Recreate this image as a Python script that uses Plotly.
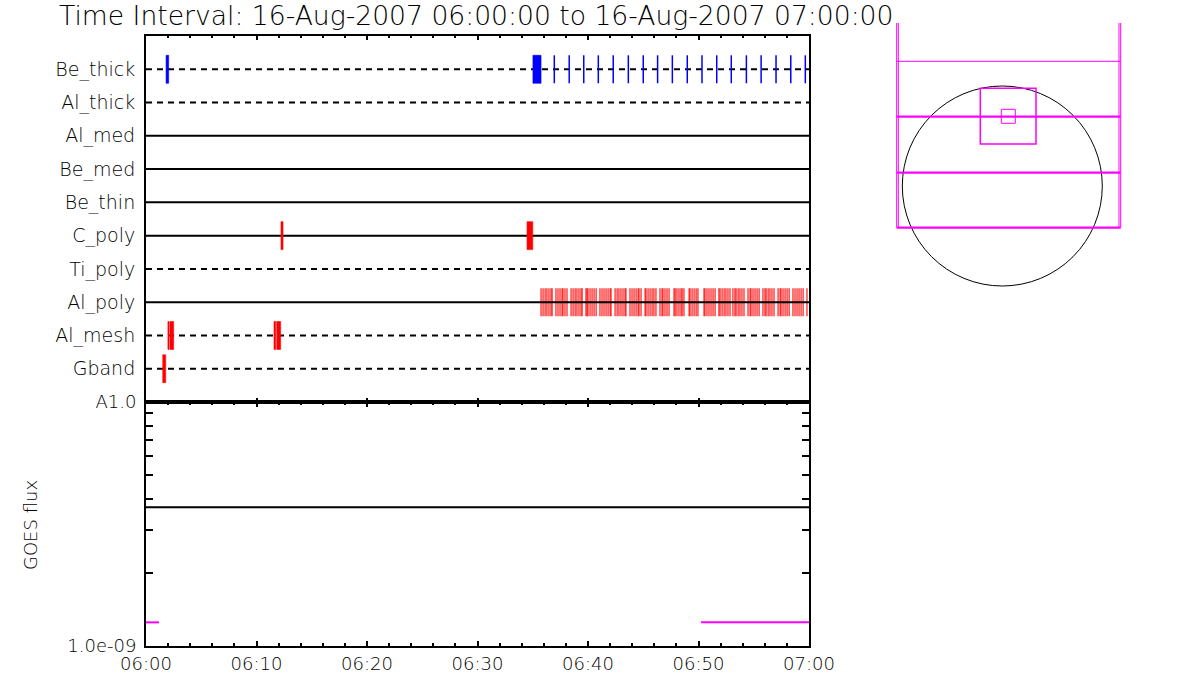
import plotly.graph_objects as go
import pandas as pd

# ---------------- data ----------------
t0 = pd.Timestamp("2007-08-16 06:00:00")
t1 = pd.Timestamp("2007-08-16 07:00:00")

rows = ["Be_thick", "Al_thick", "Al_med", "Be_med", "Be_thin",
        "C_poly", "Ti_poly", "Al_poly", "Al_mesh", "Gband"]
row_dashed = [True, True, False, False, False, False, True, False, True, True]

# event intervals, seconds after 06:00:00
be_thick_intervals = [(109, 123), (2101, 2145)]
be_thick_instants = [2217, 2298, 2377, 2456, 2537, 2619, 2700, 2778, 2858,
                     2939, 3019, 3099, 3178, 3260, 3340, 3421, 3501, 3580]
c_poly_intervals = [(733, 744), (2069, 2100)]
al_mesh_intervals = [(119, 125), (130, 150), (695, 704), (710, 731)]
gband_intervals = [(91, 107)]
al_poly_instants = [
    2145, 2156, 2167, 2177, 2188, 2199, 2205,
    2226, 2237, 2248, 2259, 2264, 2275, 2286,
    2308, 2319, 2330, 2340, 2351, 2362, 2368,
    2389, 2395, 2400, 2411, 2422, 2433, 2444,
    2465, 2476, 2487, 2498, 2509, 2520, 2525,
    2547, 2558, 2568, 2579, 2590, 2601, 2606,
    2628, 2639, 2650, 2661, 2672, 2677, 2688,
    2710, 2715, 2726, 2737, 2748, 2758, 2769,
    2791, 2802, 2807, 2818, 2829, 2840,
    2867, 2873, 2883, 2894, 2905, 2911, 2921,
    2949, 2954, 2965, 2976, 2987, 2997,
    3030, 3035, 3046, 3057, 3068, 3079, 3090,
    3111, 3117, 3128, 3139, 3149, 3160, 3171,
    3187, 3198, 3204, 3215, 3225, 3236, 3247,
    3269, 3280, 3285, 3296, 3307, 3318, 3329,
    3350, 3361, 3367, 3378, 3388, 3399, 3410,
    3432, 3443, 3448, 3459, 3470, 3481, 3492,
    3513, 3524, 3535, 3546, 3557, 3568,
    3589,
]

# GOES flux (W/m^2)
goes_level = 3.7e-9
goes_seg_times = [(0, 71), (3014, 3600)]
goes_seg_flux = [1.25e-9, 1.25e-9]

x_ticks_min = [0, 10, 20, 30, 40, 50, 60]
x_tick_labels = ["06:00", "06:10", "06:20", "06:30", "06:40", "06:50", "07:00"]
y_major_vals = [1e-9, 1e-8]
y_major_text = ["1.0e-09", "A1.0"]
y_minor_vals = [2e-9, 3e-9, 4e-9, 5e-9, 6e-9, 7e-9, 8e-9, 9e-9]

# right-hand FOV diagram (units, disk centre at 0,0)
disk_center = (0, 0)
disk_radius = 100
fov_vlines_x = [-105.6, -104.0, 116.7, 118.4]
fov_vline_y = (-41.7, 163)
fov_hlines_y = [124.7, 69.3, 13.3, -41.7]
fov_hlines_w = [1, 2.2, 2.2, 2.2]
fov_hline_x = (-105.6, 118.4)
box_big = (-22.0, 42.0, 33.7, 97.7)    # x0, y0, x1, y1
box_small = (-1.0, 62.7, 13.0, 76.7)

# ---------------- helpers ----------------
def ts(s):
    return t0 + pd.Timedelta(seconds=s)

row_y = {name: len(rows) - 1 - i for i, name in enumerate(rows)}
H = 0.42

def rect_trace(intervals, row, color):
    xs, ys = [], []
    y = row_y[row]
    for a, b in intervals:
        xs += [ts(a), ts(b), ts(b), ts(a), ts(a), None]
        ys += [y - H, y - H, y + H, y + H, y - H, None]
    return go.Scatter(x=xs, y=ys, mode="lines", fill="toself", fillcolor=color,
                      line=dict(color=color, width=0.6), xaxis="x", yaxis="y",
                      hoverinfo="skip", showlegend=False)

def tick_trace(instants, row, color, width):
    xs, ys = [], []
    y = row_y[row]
    for a in instants:
        xs += [ts(a), ts(a), None]
        ys += [y - H, y + H, None]
    return go.Scatter(x=xs, y=ys, mode="lines", line=dict(color=color, width=width),
                      xaxis="x", yaxis="y", hoverinfo="skip", showlegend=False)

def baseline(i):
    name = rows[i]
    return go.Scatter(x=[t0, t1], y=[row_y[name]] * 2, mode="lines",
                      line=dict(color="black", width=2,
                                dash="6px,5px" if row_dashed[i] else "solid"),
                      xaxis="x", yaxis="y", hoverinfo="skip", showlegend=False)

fig = go.Figure()

for i, name in enumerate(rows):
    if name != "Al_poly":
        fig.add_trace(baseline(i))

fig.add_trace(rect_trace(be_thick_intervals, "Be_thick", "#0000ff"))
fig.add_trace(tick_trace(be_thick_instants, "Be_thick", "#0000ff", 1.5))
fig.add_trace(rect_trace(c_poly_intervals, "C_poly", "#ff0000"))
fig.add_trace(rect_trace(al_mesh_intervals, "Al_mesh", "#ff0000"))
fig.add_trace(rect_trace(gband_intervals, "Gband", "#ff0000"))
fig.add_trace(tick_trace(al_poly_instants, "Al_poly", "#ff0000", 1.1))
fig.add_trace(baseline(rows.index("Al_poly")))

# GOES panel
fig.add_trace(go.Scatter(x=[t0, t1], y=[goes_level, goes_level], mode="lines",
                         line=dict(color="black", width=2), xaxis="x2", yaxis="y2",
                         hoverinfo="skip", showlegend=False))
for (a, b), f in zip(goes_seg_times, goes_seg_flux):
    fig.add_trace(go.Scatter(x=[ts(a), ts(b)], y=[f, f], mode="lines",
                             line=dict(color="#ff00ff", width=2), xaxis="x2", yaxis="y2",
                             hoverinfo="skip", showlegend=False))

# FOV diagram
MAG = "#ff00ff"
shapes = []
cx, cy = disk_center
shapes.append(dict(type="circle", xref="x3", yref="y3",
                   x0=cx - disk_radius, x1=cx + disk_radius,
                   y0=cy - disk_radius, y1=cy + disk_radius,
                   line=dict(color="black", width=1)))
for xv in fov_vlines_x:
    shapes.append(dict(type="line", xref="x3", yref="y3", x0=xv, x1=xv,
                       y0=fov_vline_y[0], y1=fov_vline_y[1], line=dict(color=MAG, width=1)))
for yv, w in zip(fov_hlines_y, fov_hlines_w):
    shapes.append(dict(type="line", xref="x3", yref="y3", x0=fov_hline_x[0], x1=fov_hline_x[1],
                       y0=yv, y1=yv, line=dict(color=MAG, width=w)))
for (bx0, by0, bx1, by1), w in [(box_big, 1.5), (box_small, 1)]:
    shapes.append(dict(type="rect", xref="x3", yref="y3", x0=bx0, x1=bx1, y0=by0, y1=by1,
                       line=dict(color=MAG, width=w)))
fig.add_trace(go.Scatter(x=[cx], y=[cy], mode="markers", marker=dict(size=1, opacity=0),
                         xaxis="x3", yaxis="y3", hoverinfo="skip", showlegend=False))

W, Hh = 1200, 700
def px_x(p): return p / W
def px_y(p): return 1 - p / Hh

FONT = dict(family="DejaVu Sans", color="black", weight=200)
xr = [t0, t1]
tickvals = [ts(m * 60) for m in x_ticks_min]

fig.update_layout(
    template="none",
    width=W, height=Hh, margin=dict(l=0, r=0, t=0, b=0, pad=0, autoexpand=False),
    paper_bgcolor="white", plot_bgcolor="white",
    font=dict(family="DejaVu Sans", size=18, color="black", weight=200),
    shapes=shapes,
    showlegend=False,
    xaxis=dict(domain=[px_x(146), px_x(809)], range=xr, type="date", automargin=False,
               anchor="y", showgrid=False, zeroline=False,
               showline=True, linecolor="black", linewidth=2, mirror="ticks",
               ticks="inside", ticklen=4, tickwidth=2, tickcolor="black",
               tickvals=tickvals, showticklabels=False,
               minor=dict(dtick=120000, ticks="inside", ticklen=2, tickwidth=2,
                          tickcolor="black", showgrid=False)),
    yaxis=dict(domain=[px_y(402), px_y(36)], range=[-1, 10], anchor="x", automargin=False,
               showgrid=False, zeroline=False, showline=True, linecolor="black",
               linewidth=2, mirror=True, ticks="",
               tickvals=[row_y[r] for r in rows], ticktext=rows,
               tickfont=dict(size=19, color="black"), ticklabelstandoff=5),
    xaxis2=dict(domain=[px_x(146), px_x(809)], range=xr, type="date", automargin=False,
                anchor="y2", showgrid=False, zeroline=False,
                showline=True, linecolor="black", linewidth=2, mirror="ticks",
                ticks="inside", ticklen=5, tickwidth=2, tickcolor="black",
                tickvals=tickvals, ticktext=x_tick_labels,
                tickfont=dict(size=18, color="black"),
                minor=dict(dtick=120000, ticks="inside", ticklen=3, tickwidth=2,
                           tickcolor="black", showgrid=False)),
    yaxis2=dict(domain=[px_y(646), px_y(402)], type="log", range=[-9, -8], automargin=False,
                anchor="x2", showgrid=False, zeroline=False, showline=True,
                linecolor="black", linewidth=2, mirror="ticks",
                ticks="inside", ticklen=8, tickwidth=1.5, tickcolor="black",
                tickvals=y_major_vals, ticktext=y_major_text,
                tickfont=dict(size=18, color="black"),
                ticklabelstandoff=4,
                minor=dict(tickvals=y_minor_vals, ticks="inside", ticklen=7,
                           tickwidth=1.5, tickcolor="black", showgrid=False)),
    xaxis3=dict(domain=[px_x(890), px_x(1130)], range=[-112.3, 127.7], anchor="y3",
                visible=False, automargin=False),
    yaxis3=dict(domain=[px_y(290), px_y(20)], range=[-104, 166], anchor="x3",
                visible=False, automargin=False),
    annotations=[
        dict(text="Time Interval: 16-Aug-2007 06:00:00 to 16-Aug-2007 07:00:00",
             xref="paper", yref="paper", x=px_x(57), y=px_y(15),
             xanchor="left", yanchor="middle", showarrow=False,
             font=dict(size=26.6, **FONT)),
        dict(text="GOES flux", xref="paper", yref="paper", x=px_x(30), y=px_y(525),
             xanchor="center", yanchor="middle", textangle=-90, showarrow=False,
             font=dict(size=18, **FONT)),
    ],
)

fig.write_html("out.html", config={"displayModeBar": False},
               post_script="document.body.style.margin='0';document.body.style.padding='0';")
